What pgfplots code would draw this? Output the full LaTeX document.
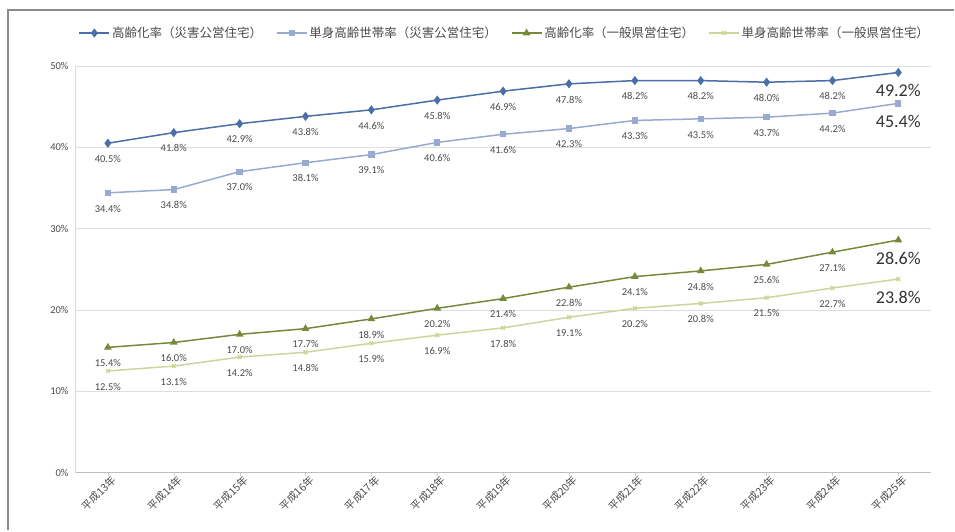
\documentclass[border=0pt]{standalone}
\usepackage{fontspec}
\setmainfont{Carlito}
\newfontfamily\cjk{Noto Sans CJK JP}
\usepackage{pgfplots}
\pgfplotsset{compat=1.18}
\definecolor{sa}{HTML}{4A6EA8}
\definecolor{sb}{HTML}{98AACF}
\definecolor{sc}{HTML}{76883A}
\definecolor{sd}{HTML}{C9D79A}
\definecolor{lbl}{HTML}{4A4A4A}
\begin{document}
\begin{tikzpicture}[x=1pt,y=1pt]
\begin{axis}[
  name=ax,
  scale only axis,
  width=857pt, height=407pt,
  xmin=-0.5, xmax=12.5,
  ymin=0, ymax=50,
  ytick={0,10,...,50},
  yticklabel={\pgfmathprintnumber{\tick}\%},
  /pgf/number format/assume math mode=true,
  yticklabel style={font=\fontsize{10.5}{10.5}\selectfont, text=lbl},
  xtick={0,...,12},
  xticklabels={平成13年,平成14年,平成15年,平成16年,平成17年,平成18年,平成19年,平成20年,平成21年,平成22年,平成23年,平成24年,平成25年},
  xticklabel style={font=\cjk\fontsize{10.5}{10.5}\selectfont, text=lbl, rotate=45, anchor=north east, inner sep=1pt, xshift=4pt},
  ymajorgrids,
  grid style={draw=black!13},
  axis x line*=bottom, axis y line*=left,
  axis line style={draw=black!15},
  x axis line style={draw=black!25},
  ytick style={draw=none},
  major x tick style={draw=black!20},
  tick align=outside,
  major tick length=3pt,
  clip=false,
  point meta=explicit symbolic,
  nodes near coords,
  every node near coord/.append style={anchor=north, font=\fontsize{10.5}{10.5}\selectfont, text=lbl, yshift=-8pt},
  legend columns=4,
  legend style={draw=none, fill=none, at={(0.502,1.081)}, anchor=center,
    font=\cjk\fontsize{12.5}{13}\selectfont, text=lbl,
    /tikz/every even column/.append style={column sep=12pt}},
  legend image code/.code={\draw[#1] (0pt,0pt) -- (15pt,0pt) plot coordinates {(15pt,0pt)} -- (30pt,0pt);},
]
\addplot[sa, line width=1.5pt, mark=diamond*, mark size=3.4pt] coordinates {
(0,40.5) [40.5\%] (1,41.8) [41.8\%] (2,42.9) [42.9\%] (3,43.8) [43.8\%] (4,44.6) [44.6\%] (5,45.8) [45.8\%] (6,46.9) [46.9\%] (7,47.8) [47.8\%] (8,48.2) [48.2\%] (9,48.2) [48.2\%] (10,48.0) [48.0\%] (11,48.2) [48.2\%] (12,49.2) [{\fontsize{18}{18}\selectfont\color{black!80}49.2\%}]
};
\addlegendentry{高齢化率（災害公営住宅）}
\addplot[sb, line width=1.5pt, mark=square*, mark size=2.4pt] coordinates {
(0,34.4) [34.4\%] (1,34.8) [34.8\%] (2,37.0) [37.0\%] (3,38.1) [38.1\%] (4,39.1) [39.1\%] (5,40.6) [40.6\%] (6,41.6) [41.6\%] (7,42.3) [42.3\%] (8,43.3) [43.3\%] (9,43.5) [43.5\%] (10,43.7) [43.7\%] (11,44.2) [44.2\%] (12,45.4) [{\fontsize{18}{18}\selectfont\color{black!80}45.4\%}]
};
\addlegendentry{単身高齢世帯率（災害公営住宅）}
\addplot[sc, line width=1.5pt, mark=triangle*, mark size=3pt] coordinates {
(0,15.4) [15.4\%] (1,16.0) [16.0\%] (2,17.0) [17.0\%] (3,17.7) [17.7\%] (4,18.9) [18.9\%] (5,20.2) [20.2\%] (6,21.4) [21.4\%] (7,22.8) [22.8\%] (8,24.1) [24.1\%] (9,24.8) [24.8\%] (10,25.6) [25.6\%] (11,27.1) [27.1\%] (12,28.6) [{\fontsize{18}{18}\selectfont\color{black!80}28.6\%}]
};
\addlegendentry{高齢化率（一般県営住宅）}
\addplot[sd, line width=1.5pt, mark=x, mark size=2.6pt] coordinates {
(0,12.5) [12.5\%] (1,13.1) [13.1\%] (2,14.2) [14.2\%] (3,14.8) [14.8\%] (4,15.9) [15.9\%] (5,16.9) [16.9\%] (6,17.8) [17.8\%] (7,19.1) [19.1\%] (8,20.2) [20.2\%] (9,20.8) [20.8\%] (10,21.5) [21.5\%] (11,22.7) [22.7\%] (12,23.8) [{\fontsize{18}{18}\selectfont\color{black!80}23.8\%}]
};
\addlegendentry{単身高齢世帯率（一般県営住宅）}
\end{axis}
\draw[black!45, line width=1.5pt] ([shift={(-67pt,-57pt)}]ax.south west) -- ([shift={(-67pt,463pt)}]ax.south west) -- ([shift={(880pt,463pt)}]ax.south west);
\path[use as bounding box] ([shift={(-75pt,-59pt)}]ax.south west) rectangle ([shift={(880pt,473pt)}]ax.south west);
\end{tikzpicture}
\end{document}
